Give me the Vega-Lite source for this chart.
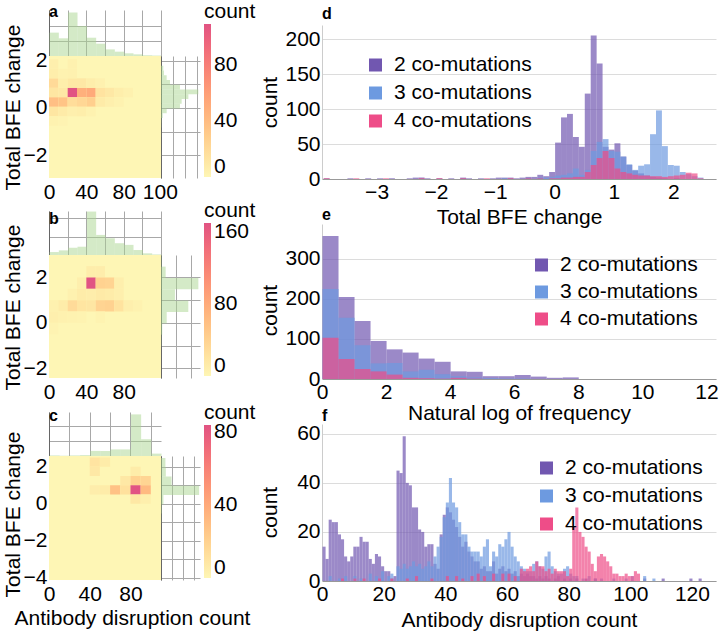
{
  "$schema": "https://vega.github.io/schema/vega-lite/v6.json",
  "background": "white",
  "padding": {"left": 2, "top": 1, "right": 0, "bottom": 0},
  "bounds": "flush",
  "spacing": 273,
  "resolve": {"scale": {"x": "independent", "y": "independent", "color": "independent"}, "legend": {"color": "independent"}},
  "hconcat": [
    {
      "vconcat": [
        {
          "spacing": 0, "bounds": "flush",
          "resolve": {"scale": {"x": "independent", "y": "independent", "color": "independent"}, "legend": {"color": "independent"}},
          "vconcat": [
            {
              "width": 112, "height": 46,
              "title": {"text": "a", "offset": -10},
              "data": {"name": "topA"},
              "mark": {"type": "bar", "color": "#a9d58f", "opacity": 0.5, "binSpacing": 0},
              "encoding": {
                "x": {"field": "x", "type": "quantitative", "bin": {"binned": true, "step": 10}, "scale": {"domain": [0, 120], "nice": false}, "axis": {"labels": false, "title": null, "grid": true, "gridColor": "#a8a8a8", "domainColor": "#666666", "values": [0, 20, 40, 60, 80, 100, 120]}},
                "y": {"field": "n", "type": "quantitative", "scale": {"domain": [0, 307], "nice": false}, "axis": {"labels": false, "title": null, "grid": true, "gridColor": "#a8a8a8", "domainColor": "#666666", "values": [0, 100, 200]}}
              }
            },
            {
              "spacing": 0, "bounds": "flush",
              "resolve": {"scale": {"x": "independent", "y": "independent", "color": "independent"}, "legend": {"color": "independent"}},
              "hconcat": [
                {
                  "width": 112, "height": 122,
                  "view": {"fill": "#fef6b5", "stroke": null},
                  "data": {"name": "heatA"},
                  "mark": {"type": "rect"},
                  "encoding": {
                    "x": {"field": "x", "type": "quantitative", "scale": {"domain": [0, 120], "nice": false}, "axis": {"values": [0, 40, 80, 100], "grid": false, "domain": false, "title": null, "labelPadding": 3, "labelAlign": {"condition": {"test": "datum.value == 100", "value": "left"}, "value": "center"}}},
                    "x2": {"field": "x2"},
                    "y": {"field": "y", "type": "quantitative", "scale": {"domain": [-2.95, 2.19], "nice": false}, "axis": {"values": [-2, 0, 2], "grid": false, "domain": false, "title": "Total BFE change", "titleX": -25.8, "titleY": 51}},
                    "y2": {"field": "y2"},
                    "color": {"field": "n", "type": "quantitative", "scale": {"domain": [0, 109], "range": ["#fef6b5", "#ffdd9a", "#ffc285", "#ffa679", "#fa8a76", "#f16d7a", "#e15383"]},
                      "legend": {"orient": "none", "legendX": 155, "legendY": -55, "direction": "vertical", "gradientLength": 153, "gradientThickness": 7, "values": [0, 40, 80], "title": "count", "titleAnchor": "start", "titleFontSize": 21, "titleFontWeight": "normal", "titlePadding": 2, "labelFontSize": 21, "labelOffset": 3, "labelOverlap": false, "gradientStrokeWidth": 0}}
                  }
                },
                {
                  "width": 39, "height": 122,
                  "data": {"name": "rightA"},
                  "mark": {"type": "bar", "color": "#a9d58f", "opacity": 0.5, "binSpacing": 0, "orient": "horizontal"},
                  "encoding": {
                    "y": {"field": "y", "type": "quantitative", "bin": {"binned": true, "step": 0.2}, "scale": {"domain": [-2.95, 2.19], "nice": false}, "axis": {"labels": false, "title": null, "grid": true, "gridColor": "#a8a8a8", "domainColor": "#666666", "values": [-2, -1, 0, 1, 2]}},
                    "x": {"field": "n", "type": "quantitative", "scale": {"domain": [0, 325], "nice": false}, "axis": {"labels": false, "title": null, "grid": true, "gridColor": "#a8a8a8", "domain": false, "values": [0, 100, 200, 300]}}
                  }
                }
              ]
            }
          ]
        },
        {
          "spacing": 0, "bounds": "flush",
          "resolve": {"scale": {"x": "independent", "y": "independent", "color": "independent"}, "legend": {"color": "independent"}},
          "vconcat": [
            {
              "width": 112, "height": 44,
              "title": {"text": "b", "offset": -16},
              "data": {"name": "topB"},
              "mark": {"type": "bar", "color": "#a9d58f", "opacity": 0.5, "binSpacing": 0},
              "encoding": {
                "x": {"field": "x", "type": "quantitative", "bin": {"binned": true, "step": 10}, "scale": {"domain": [0, 120], "nice": false}, "axis": {"labels": false, "title": null, "grid": true, "gridColor": "#a8a8a8", "domainColor": "#666666", "values": [0, 20, 40, 60, 80, 100, 120]}},
                "y": {"field": "n", "type": "quantitative", "scale": {"domain": [0, 239], "nice": false}, "axis": {"labels": false, "title": null, "grid": true, "gridColor": "#a8a8a8", "domainColor": "#666666", "values": [0, 100, 200]}}
              }
            },
            {
              "spacing": 0, "bounds": "flush",
              "resolve": {"scale": {"x": "independent", "y": "independent", "color": "independent"}, "legend": {"color": "independent"}},
              "hconcat": [
                {
                  "width": 112, "height": 123,
                  "view": {"fill": "#fef6b5", "stroke": null},
                  "data": {"name": "heatB"},
                  "mark": {"type": "rect"},
                  "encoding": {
                    "x": {"field": "x", "type": "quantitative", "scale": {"domain": [0, 120], "nice": false}, "axis": {"values": [0, 40, 80], "grid": false, "domain": false, "title": null, "labelPadding": 3}},
                    "x2": {"field": "x2"},
                    "y": {"field": "y", "type": "quantitative", "scale": {"domain": [-2.43, 2.99], "nice": false}, "axis": {"values": [-2, 0, 2], "grid": false, "domain": false, "title": "Total BFE change", "titleX": -25.8, "titleY": 52}},
                    "y2": {"field": "y2"},
                    "color": {"field": "n", "type": "quantitative", "scale": {"domain": [0, 170], "range": ["#fef6b5", "#ffdd9a", "#ffc285", "#ffa679", "#fa8a76", "#f16d7a", "#e15383"]},
                      "legend": {"orient": "none", "legendX": 155, "legendY": -55, "direction": "vertical", "gradientLength": 153, "gradientThickness": 7, "values": [0, 80, 160], "title": "count", "titleAnchor": "start", "titleFontSize": 21, "titleFontWeight": "normal", "titlePadding": 2, "labelFontSize": 21, "labelOffset": 3, "labelOverlap": false, "gradientStrokeWidth": 0}}
                  }
                },
                {
                  "width": 39, "height": 123,
                  "data": {"name": "rightB"},
                  "mark": {"type": "bar", "color": "#a9d58f", "opacity": 0.5, "binSpacing": 0, "orient": "horizontal"},
                  "encoding": {
                    "y": {"field": "y", "type": "quantitative", "bin": {"binned": true, "step": 0.5}, "scale": {"domain": [-2.43, 2.99], "nice": false}, "axis": {"labels": false, "title": null, "grid": true, "gridColor": "#a8a8a8", "domainColor": "#666666", "values": [-2, -1, 0, 1, 2]}},
                    "x": {"field": "n", "type": "quantitative", "scale": {"domain": [0, 260], "nice": false}, "axis": {"labels": false, "title": null, "grid": true, "gridColor": "#a8a8a8", "domain": false, "values": [0, 100, 200]}}
                  }
                }
              ]
            }
          ]
        },
        {
          "spacing": 0, "bounds": "flush",
          "resolve": {"scale": {"x": "independent", "y": "independent", "color": "independent"}, "legend": {"color": "independent"}},
          "vconcat": [
            {
              "width": 112, "height": 44,
              "title": {"text": "c", "offset": -12},
              "data": {"name": "topC"},
              "mark": {"type": "bar", "color": "#a9d58f", "opacity": 0.5, "binSpacing": 0},
              "encoding": {
                "x": {"field": "x", "type": "quantitative", "bin": {"binned": true, "step": 10}, "scale": {"domain": [0, 110], "nice": false}, "axis": {"labels": false, "title": null, "grid": true, "gridColor": "#a8a8a8", "domainColor": "#666666", "values": [0, 20, 40, 60, 80, 100]}},
                "y": {"field": "n", "type": "quantitative", "scale": {"domain": [0, 147], "nice": false}, "axis": {"labels": false, "title": null, "grid": true, "gridColor": "#a8a8a8", "domainColor": "#666666", "values": [0, 50, 100]}}
              }
            },
            {
              "spacing": 0, "bounds": "flush",
              "resolve": {"scale": {"x": "independent", "y": "independent", "color": "independent"}, "legend": {"color": "independent"}},
              "hconcat": [
                {
                  "width": 112, "height": 124,
                  "view": {"fill": "#fef6b5", "stroke": null},
                  "data": {"name": "heatC"},
                  "mark": {"type": "rect"},
                  "encoding": {
                    "x": {"field": "x", "type": "quantitative", "scale": {"domain": [0, 110], "nice": false}, "axis": {"values": [0, 40, 80], "grid": false, "domain": false, "title": "Antibody disruption count", "titleX": 83, "titleY": 27.5, "labelPadding": 3}},
                    "x2": {"field": "x2"},
                    "y": {"field": "y", "type": "quantitative", "scale": {"domain": [-4.12, 2.58], "nice": false}, "axis": {"values": [-4, -2, 0, 2], "grid": false, "domain": false, "title": "Total BFE change", "titleX": -25.8, "titleY": 58}},
                    "y2": {"field": "y2"},
                    "color": {"field": "n", "type": "quantitative", "scale": {"domain": [0, 84], "range": ["#fef6b5", "#ffdd9a", "#ffc285", "#ffa679", "#fa8a76", "#f16d7a", "#e15383"]},
                      "legend": {"orient": "none", "legendX": 155, "legendY": -54, "direction": "vertical", "gradientLength": 153, "gradientThickness": 7, "values": [0, 40, 80], "title": "count", "titleAnchor": "start", "titleFontSize": 21, "titleFontWeight": "normal", "titlePadding": 2, "labelFontSize": 21, "labelOffset": 3, "labelOverlap": false, "gradientStrokeWidth": 0}}
                  }
                },
                {
                  "width": 39, "height": 124,
                  "data": {"name": "rightC"},
                  "mark": {"type": "bar", "color": "#a9d58f", "opacity": 0.5, "binSpacing": 0, "orient": "horizontal"},
                  "encoding": {
                    "y": {"field": "y", "type": "quantitative", "bin": {"binned": true, "step": 0.5}, "scale": {"domain": [-4.12, 2.58], "nice": false}, "axis": {"labels": false, "title": null, "grid": true, "gridColor": "#a8a8a8", "domainColor": "#666666", "values": [-4, -3, -2, -1, 0, 1, 2]}},
                    "x": {"field": "n", "type": "quantitative", "scale": {"domain": [0, 177], "nice": false}, "axis": {"labels": false, "title": null, "grid": true, "gridColor": "#a8a8a8", "domain": false, "values": [0, 50, 100, 150]}}
                  }
                }
              ]
            }
          ]
        }
      ],
      "spacing": 201, "bounds": "flush",
      "resolve": {"scale": {"x": "independent", "y": "independent", "color": "independent"}, "legend": {"color": "independent"}}
    },
    {
      "spacing": 14, "bounds": "flush",
      "resolve": {"scale": {"x": "independent", "y": "independent", "color": "independent"}, "legend": {"color": "independent"}},
      "vconcat": [
        {"width": 1, "height": 1, "data": {"values": []}, "mark": {"type": "point", "opacity": 0}, "encoding": {}},
        {
          "spacing": 45, "bounds": "flush",
          "resolve": {"scale": {"x": "independent", "y": "independent", "color": "independent"}, "legend": {"color": "independent"}},
          "vconcat": [
            {
              "width": 394, "height": 154,
              "title": {"text": "d", "offset": 3},
              "data": {"name": "histD"},
              "mark": {"type": "bar", "opacity": 0.7, "binSpacing": 0},
              "encoding": {
                "x": {"field": "x", "type": "quantitative", "bin": {"binned": true, "step": 0.1}, "scale": {"domain": [-3.92, 2.72], "nice": false}, "axis": {"values": [-3, -2, -1, 0, 1, 2], "format": "d", "title": "Total BFE change", "titleY": 27, "grid": false, "domainColor": "#999999"}},
                "y": {"field": "n", "type": "quantitative", "stack": null, "scale": {"domain": [0, 220], "nice": false}, "axis": {"values": [0, 50, 100, 150, 200], "title": "count", "titleX": -41.5, "grid": true, "domainColor": "#cccccc"}},
                "color": {"field": "g", "type": "nominal", "scale": {"domain": ["2 co-mutations", "3 co-mutations", "4 co-mutations"], "range": ["#7157b0", "#6d9ae0", "#ee4d88"]},
                  "legend": {"orient": "none", "legendX": 43, "legendY": 29.5, "title": null, "symbolType": "square", "symbolSize": 169, "symbolStrokeWidth": 0, "symbolOpacity": 1, "labelFontSize": 21, "labelOffset": 8, "rowPadding": 6}}
              }
            },
            {
              "width": 394, "height": 155,
              "title": {"text": "e", "offset": 1},
              "data": {"name": "histE"},
              "mark": {"type": "bar", "opacity": 0.7, "binSpacing": 0},
              "encoding": {
                "x": {"field": "x", "type": "quantitative", "bin": {"binned": true, "step": 0.5}, "scale": {"domain": [0, 12.3], "nice": false}, "axis": {"values": [0, 2, 4, 6, 8, 10, 12], "format": "d", "title": "Natural log of frequency", "titleY": 23.5, "grid": false, "domainColor": "#999999"}},
                "y": {"field": "n", "type": "quantitative", "stack": null, "scale": {"domain": [0, 387], "nice": false}, "axis": {"values": [0, 100, 200, 300], "title": "count", "titleX": -41.5, "titleY": 86, "grid": true, "domainColor": "#cccccc"}},
                "color": {"field": "g", "type": "nominal", "scale": {"domain": ["2 co-mutations", "3 co-mutations", "4 co-mutations"], "range": ["#7157b0", "#6d9ae0", "#ee4d88"]},
                  "legend": {"orient": "none", "legendX": 209, "legendY": 30.5, "title": null, "symbolType": "square", "symbolSize": 169, "symbolStrokeWidth": 0, "symbolOpacity": 1, "labelFontSize": 21, "labelOffset": 8, "rowPadding": 5}}
              }
            },
            {
              "width": 394, "height": 157,
              "title": {"text": "f", "offset": -1},
              "data": {"name": "histF"},
              "mark": {"type": "bar", "opacity": 0.7, "binSpacing": 0},
              "encoding": {
                "x": {"field": "x", "type": "quantitative", "bin": {"binned": true, "step": 1}, "scale": {"domain": [0, 127.8], "nice": false}, "axis": {"values": [0, 20, 40, 60, 80, 100, 120], "format": "d", "title": "Antibody disruption count", "titleY": 28.5, "grid": false, "domainColor": "#999999"}},
                "y": {"field": "n", "type": "quantitative", "stack": null, "scale": {"domain": [0, 64], "nice": false}, "axis": {"values": [0, 20, 40, 60], "title": "count", "titleX": -41.5, "titleY": 88, "grid": true, "domainColor": "#cccccc"}},
                "color": {"field": "g", "type": "nominal", "scale": {"domain": ["2 co-mutations", "3 co-mutations", "4 co-mutations"], "range": ["#7157b0", "#6d9ae0", "#ee4d88"]},
                  "legend": {"orient": "none", "legendX": 214, "legendY": 33.5, "title": null, "symbolType": "square", "symbolSize": 169, "symbolStrokeWidth": 0, "symbolOpacity": 1, "labelFontSize": 21, "labelOffset": 8, "rowPadding": 6}}
              }
            }
          ]
        }
      ]
    }
  ],
  "datasets": {
    "topA": [
      {"x": 0, "n": 156}, {"x": 10, "n": 118}, {"x": 20, "n": 290}, {"x": 30, "n": 200}, {"x": 40, "n": 122}, {"x": 50, "n": 82},
      {"x": 60, "n": 44}, {"x": 70, "n": 29}, {"x": 80, "n": 18}, {"x": 90, "n": 11}, {"x": 100, "n": 5}, {"x": 110, "n": 3}
    ],
    "topB": [
      {"x": 0, "n": 16}, {"x": 10, "n": 25}, {"x": 20, "n": 40}, {"x": 30, "n": 45}, {"x": 40, "n": 236}, {"x": 50, "n": 109},
      {"x": 60, "n": 91}, {"x": 70, "n": 64}, {"x": 80, "n": 55}, {"x": 90, "n": 27}, {"x": 100, "n": 9}, {"x": 110, "n": 3}
    ],
    "topC": [
      {"x": 0, "n": 2}, {"x": 10, "n": 1}, {"x": 20, "n": 2}, {"x": 30, "n": 3}, {"x": 40, "n": 17}, {"x": 50, "n": 17},
      {"x": 60, "n": 22}, {"x": 70, "n": 22}, {"x": 80, "n": 139}, {"x": 90, "n": 56}, {"x": 100, "n": 8}
    ],
    "rightA": [
      {"y": 1.6, "n": 19}, {"y": 1.4, "n": 25}, {"y": 1.2, "n": 47}, {"y": 1.0, "n": 75}, {"y": 0.8, "n": 158}, {"y": 0.6, "n": 311},
      {"y": 0.4, "n": 228}, {"y": 0.2, "n": 172}, {"y": 0.0, "n": 158}, {"y": -0.2, "n": 47}, {"y": -0.4, "n": 14}, {"y": -0.6, "n": 3},
      {"y": -0.8, "n": 2}, {"y": -1.2, "n": 1}, {"y": -2.0, "n": 1}
    ],
    "rightB": [
      {"y": 2.5, "n": 3}, {"y": 2.0, "n": 31}, {"y": 1.5, "n": 249}, {"y": 1.0, "n": 93}, {"y": 0.5, "n": 182}, {"y": 0.0, "n": 38},
      {"y": -0.5, "n": 8}, {"y": -1.0, "n": 2}
    ],
    "rightC": [
      {"y": 2.0, "n": 20}, {"y": 1.5, "n": 22}, {"y": 1.0, "n": 48}, {"y": 0.5, "n": 173}, {"y": 0.0, "n": 11}, {"y": -0.5, "n": 3}, {"y": -1.0, "n": 1}
    ],
    "heatA": [
      {"x": 0, "x2": 10, "y": 0.45, "y2": 0.85, "n": 12}, {"x": 10, "x2": 20, "y": 0.45, "y2": 0.85, "n": 10},
      {"x": 20, "x2": 30, "y": 0.45, "y2": 0.85, "n": 109}, {"x": 30, "x2": 40, "y": 0.45, "y2": 0.85, "n": 48},
      {"x": 40, "x2": 50, "y": 0.45, "y2": 0.85, "n": 52}, {"x": 50, "x2": 60, "y": 0.45, "y2": 0.85, "n": 14},
      {"x": 60, "x2": 70, "y": 0.45, "y2": 0.85, "n": 10}, {"x": 70, "x2": 80, "y": 0.45, "y2": 0.85, "n": 6},
      {"x": 80, "x2": 90, "y": 0.45, "y2": 0.85, "n": 4},
      {"x": 0, "x2": 10, "y": 0.05, "y2": 0.45, "n": 38}, {"x": 10, "x2": 20, "y": 0.05, "y2": 0.45, "n": 35},
      {"x": 20, "x2": 30, "y": 0.05, "y2": 0.45, "n": 18}, {"x": 30, "x2": 40, "y": 0.05, "y2": 0.45, "n": 22},
      {"x": 40, "x2": 50, "y": 0.05, "y2": 0.45, "n": 28}, {"x": 50, "x2": 60, "y": 0.05, "y2": 0.45, "n": 8},
      {"x": 60, "x2": 70, "y": 0.05, "y2": 0.45, "n": 5}, {"x": 70, "x2": 80, "y": 0.05, "y2": 0.45, "n": 3},
      {"x": 0, "x2": 10, "y": -0.35, "y2": 0.05, "n": 12}, {"x": 10, "x2": 20, "y": -0.35, "y2": 0.05, "n": 8},
      {"x": 20, "x2": 30, "y": -0.35, "y2": 0.05, "n": 5}, {"x": 30, "x2": 40, "y": -0.35, "y2": 0.05, "n": 6},
      {"x": 40, "x2": 50, "y": -0.35, "y2": 0.05, "n": 3},
      {"x": 0, "x2": 10, "y": -0.75, "y2": -0.35, "n": 3}, {"x": 10, "x2": 20, "y": -0.75, "y2": -0.35, "n": 2},
      {"x": 0, "x2": 10, "y": 0.85, "y2": 1.25, "n": 20}, {"x": 10, "x2": 20, "y": 0.85, "y2": 1.25, "n": 6},
      {"x": 20, "x2": 30, "y": 0.85, "y2": 1.25, "n": 10}, {"x": 30, "x2": 40, "y": 0.85, "y2": 1.25, "n": 10},
      {"x": 40, "x2": 50, "y": 0.85, "y2": 1.25, "n": 6}, {"x": 50, "x2": 60, "y": 0.85, "y2": 1.25, "n": 4},
      {"x": 0, "x2": 10, "y": 1.25, "y2": 1.65, "n": 6}, {"x": 10, "x2": 20, "y": 1.25, "y2": 1.65, "n": 3},
      {"x": 20, "x2": 30, "y": 1.25, "y2": 1.65, "n": 4},
      {"x": 0, "x2": 10, "y": 1.65, "y2": 2.05, "n": 5}, {"x": 20, "x2": 30, "y": 1.65, "y2": 2.05, "n": 4}
    ],
    "heatB": [
      {"x": 40, "x2": 50, "y": 2.0, "y2": 2.5, "n": 10}, {"x": 50, "x2": 60, "y": 2.0, "y2": 2.5, "n": 10},
      {"x": 30, "x2": 40, "y": 1.5, "y2": 2.0, "n": 8}, {"x": 40, "x2": 50, "y": 1.5, "y2": 2.0, "n": 170},
      {"x": 50, "x2": 60, "y": 1.5, "y2": 2.0, "n": 40}, {"x": 60, "x2": 70, "y": 1.5, "y2": 2.0, "n": 38},
      {"x": 70, "x2": 80, "y": 1.5, "y2": 2.0, "n": 8},
      {"x": 20, "x2": 30, "y": 1.0, "y2": 1.5, "n": 6}, {"x": 30, "x2": 40, "y": 1.0, "y2": 1.5, "n": 12},
      {"x": 40, "x2": 50, "y": 1.0, "y2": 1.5, "n": 10}, {"x": 50, "x2": 60, "y": 1.0, "y2": 1.5, "n": 14},
      {"x": 60, "x2": 70, "y": 1.0, "y2": 1.5, "n": 12}, {"x": 70, "x2": 80, "y": 1.0, "y2": 1.5, "n": 8},
      {"x": 0, "x2": 10, "y": 0.5, "y2": 1.0, "n": 6}, {"x": 10, "x2": 20, "y": 0.5, "y2": 1.0, "n": 12},
      {"x": 20, "x2": 30, "y": 0.5, "y2": 1.0, "n": 30}, {"x": 30, "x2": 40, "y": 0.5, "y2": 1.0, "n": 20},
      {"x": 40, "x2": 50, "y": 0.5, "y2": 1.0, "n": 18}, {"x": 50, "x2": 60, "y": 0.5, "y2": 1.0, "n": 38},
      {"x": 60, "x2": 70, "y": 0.5, "y2": 1.0, "n": 40}, {"x": 70, "x2": 80, "y": 0.5, "y2": 1.0, "n": 22},
      {"x": 80, "x2": 90, "y": 0.5, "y2": 1.0, "n": 8}, {"x": 90, "x2": 100, "y": 0.5, "y2": 1.0, "n": 5},
      {"x": 0, "x2": 10, "y": 0.0, "y2": 0.5, "n": 8}, {"x": 10, "x2": 20, "y": 0.0, "y2": 0.5, "n": 6},
      {"x": 20, "x2": 30, "y": 0.0, "y2": 0.5, "n": 5}, {"x": 30, "x2": 40, "y": 0.0, "y2": 0.5, "n": 4},
      {"x": 50, "x2": 60, "y": 0.0, "y2": 0.5, "n": 4},
      {"x": 0, "x2": 10, "y": -0.5, "y2": 0.0, "n": 3}
    ],
    "heatC": [
      {"x": 40, "x2": 50, "y": 2.0, "y2": 2.5, "n": 10}, {"x": 50, "x2": 60, "y": 2.0, "y2": 2.5, "n": 6},
      {"x": 40, "x2": 50, "y": 1.5, "y2": 2.0, "n": 8}, {"x": 80, "x2": 90, "y": 1.5, "y2": 2.0, "n": 6},
      {"x": 70, "x2": 80, "y": 1.0, "y2": 1.5, "n": 8}, {"x": 80, "x2": 90, "y": 1.0, "y2": 1.5, "n": 20},
      {"x": 90, "x2": 100, "y": 1.0, "y2": 1.5, "n": 18},
      {"x": 40, "x2": 50, "y": 0.5, "y2": 1.0, "n": 5}, {"x": 50, "x2": 60, "y": 0.5, "y2": 1.0, "n": 6},
      {"x": 60, "x2": 70, "y": 0.5, "y2": 1.0, "n": 28}, {"x": 70, "x2": 80, "y": 0.5, "y2": 1.0, "n": 12},
      {"x": 80, "x2": 90, "y": 0.5, "y2": 1.0, "n": 84}, {"x": 90, "x2": 100, "y": 0.5, "y2": 1.0, "n": 32},
      {"x": 80, "x2": 90, "y": 0.0, "y2": 0.5, "n": 8}, {"x": 90, "x2": 100, "y": 0.0, "y2": 0.5, "n": 4}
    ],
    "histD": [
      {"g": "2 co-mutations", "x": -3.9, "n": 1}, {"g": "2 co-mutations", "x": -3.5, "n": 1}, {"g": "2 co-mutations", "x": -3.2, "n": 1},
      {"g": "2 co-mutations", "x": -3.0, "n": 1}, {"g": "2 co-mutations", "x": -2.8, "n": 1}, {"g": "2 co-mutations", "x": -2.5, "n": 1},
      {"g": "2 co-mutations", "x": -2.4, "n": 2}, {"g": "2 co-mutations", "x": -2.3, "n": 2}, {"g": "2 co-mutations", "x": -2.2, "n": 1},
      {"g": "2 co-mutations", "x": -2.0, "n": 1}, {"g": "2 co-mutations", "x": -1.8, "n": 1}, {"g": "2 co-mutations", "x": -1.6, "n": 2},
      {"g": "2 co-mutations", "x": -1.5, "n": 1}, {"g": "2 co-mutations", "x": -1.3, "n": 1}, {"g": "2 co-mutations", "x": -1.1, "n": 1},
      {"g": "2 co-mutations", "x": -1.0, "n": 2}, {"g": "2 co-mutations", "x": -0.9, "n": 2}, {"g": "2 co-mutations", "x": -0.8, "n": 2},
      {"g": "2 co-mutations", "x": -0.7, "n": 1}, {"g": "2 co-mutations", "x": -0.6, "n": 2}, {"g": "2 co-mutations", "x": -0.5, "n": 3},
      {"g": "2 co-mutations", "x": -0.4, "n": 3}, {"g": "2 co-mutations", "x": -0.3, "n": 6}, {"g": "2 co-mutations", "x": -0.2, "n": 4},
      {"g": "2 co-mutations", "x": -0.1, "n": 10}, {"g": "2 co-mutations", "x": 0.0, "n": 52}, {"g": "2 co-mutations", "x": 0.1, "n": 88},
      {"g": "2 co-mutations", "x": 0.2, "n": 93}, {"g": "2 co-mutations", "x": 0.3, "n": 60}, {"g": "2 co-mutations", "x": 0.4, "n": 46},
      {"g": "2 co-mutations", "x": 0.5, "n": 122}, {"g": "2 co-mutations", "x": 0.6, "n": 205}, {"g": "2 co-mutations", "x": 0.7, "n": 165},
      {"g": "2 co-mutations", "x": 0.8, "n": 46}, {"g": "2 co-mutations", "x": 0.9, "n": 42}, {"g": "2 co-mutations", "x": 1.0, "n": 51},
      {"g": "2 co-mutations", "x": 1.1, "n": 32}, {"g": "2 co-mutations", "x": 1.2, "n": 20}, {"g": "2 co-mutations", "x": 1.3, "n": 12},
      {"g": "2 co-mutations", "x": 1.4, "n": 8}, {"g": "2 co-mutations", "x": 1.5, "n": 5}, {"g": "2 co-mutations", "x": 1.6, "n": 3},
      {"g": "2 co-mutations", "x": 1.7, "n": 2}, {"g": "2 co-mutations", "x": 1.8, "n": 1}, {"g": "2 co-mutations", "x": 2.0, "n": 1},
      {"g": "3 co-mutations", "x": -0.9, "n": 1}, {"g": "3 co-mutations", "x": -0.5, "n": 1}, {"g": "3 co-mutations", "x": -0.3, "n": 2},
      {"g": "3 co-mutations", "x": -0.2, "n": 2}, {"g": "3 co-mutations", "x": -0.1, "n": 3}, {"g": "3 co-mutations", "x": 0.0, "n": 5},
      {"g": "3 co-mutations", "x": 0.1, "n": 6}, {"g": "3 co-mutations", "x": 0.2, "n": 8}, {"g": "3 co-mutations", "x": 0.3, "n": 15},
      {"g": "3 co-mutations", "x": 0.4, "n": 6}, {"g": "3 co-mutations", "x": 0.5, "n": 13}, {"g": "3 co-mutations", "x": 0.6, "n": 40},
      {"g": "3 co-mutations", "x": 0.7, "n": 53}, {"g": "3 co-mutations", "x": 0.8, "n": 57}, {"g": "3 co-mutations", "x": 0.9, "n": 40},
      {"g": "3 co-mutations", "x": 1.0, "n": 39}, {"g": "3 co-mutations", "x": 1.1, "n": 32}, {"g": "3 co-mutations", "x": 1.2, "n": 21},
      {"g": "3 co-mutations", "x": 1.3, "n": 13}, {"g": "3 co-mutations", "x": 1.4, "n": 19}, {"g": "3 co-mutations", "x": 1.5, "n": 21},
      {"g": "3 co-mutations", "x": 1.6, "n": 64}, {"g": "3 co-mutations", "x": 1.7, "n": 98}, {"g": "3 co-mutations", "x": 1.8, "n": 47},
      {"g": "3 co-mutations", "x": 1.9, "n": 20}, {"g": "3 co-mutations", "x": 2.0, "n": 19}, {"g": "3 co-mutations", "x": 2.1, "n": 10},
      {"g": "3 co-mutations", "x": 2.2, "n": 7}, {"g": "3 co-mutations", "x": 2.3, "n": 4}, {"g": "3 co-mutations", "x": 2.4, "n": 2},
      {"g": "4 co-mutations", "x": -3.9, "n": 1}, {"g": "4 co-mutations", "x": -3.4, "n": 1}, {"g": "4 co-mutations", "x": -2.9, "n": 1},
      {"g": "4 co-mutations", "x": -2.3, "n": 1}, {"g": "4 co-mutations", "x": -2.0, "n": 1}, {"g": "4 co-mutations", "x": -1.6, "n": 1},
      {"g": "4 co-mutations", "x": -1.2, "n": 1}, {"g": "4 co-mutations", "x": -0.8, "n": 1}, {"g": "4 co-mutations", "x": -0.5, "n": 1},
      {"g": "4 co-mutations", "x": -0.3, "n": 1}, {"g": "4 co-mutations", "x": -0.1, "n": 1}, {"g": "4 co-mutations", "x": 0.0, "n": 1},
      {"g": "4 co-mutations", "x": 0.1, "n": 2}, {"g": "4 co-mutations", "x": 0.2, "n": 2}, {"g": "4 co-mutations", "x": 0.3, "n": 3},
      {"g": "4 co-mutations", "x": 0.4, "n": 3}, {"g": "4 co-mutations", "x": 0.5, "n": 10}, {"g": "4 co-mutations", "x": 0.6, "n": 20},
      {"g": "4 co-mutations", "x": 0.7, "n": 30}, {"g": "4 co-mutations", "x": 0.8, "n": 40}, {"g": "4 co-mutations", "x": 0.9, "n": 30},
      {"g": "4 co-mutations", "x": 1.0, "n": 15}, {"g": "4 co-mutations", "x": 1.1, "n": 10}, {"g": "4 co-mutations", "x": 1.2, "n": 8},
      {"g": "4 co-mutations", "x": 1.3, "n": 6}, {"g": "4 co-mutations", "x": 1.4, "n": 5}, {"g": "4 co-mutations", "x": 1.5, "n": 5},
      {"g": "4 co-mutations", "x": 1.6, "n": 4}, {"g": "4 co-mutations", "x": 1.7, "n": 4}, {"g": "4 co-mutations", "x": 1.8, "n": 3},
      {"g": "4 co-mutations", "x": 1.9, "n": 4}, {"g": "4 co-mutations", "x": 2.0, "n": 5}, {"g": "4 co-mutations", "x": 2.1, "n": 6},
      {"g": "4 co-mutations", "x": 2.2, "n": 9}, {"g": "4 co-mutations", "x": 2.3, "n": 8}, {"g": "4 co-mutations", "x": 2.4, "n": 1}
    ],
    "histE": [
      {"g": "2 co-mutations", "x": 0, "n": 357}, {"g": "2 co-mutations", "x": 0.5, "n": 205}, {"g": "2 co-mutations", "x": 1, "n": 145},
      {"g": "2 co-mutations", "x": 1.5, "n": 95}, {"g": "2 co-mutations", "x": 2, "n": 74}, {"g": "2 co-mutations", "x": 2.5, "n": 66},
      {"g": "2 co-mutations", "x": 3, "n": 51}, {"g": "2 co-mutations", "x": 3.5, "n": 43}, {"g": "2 co-mutations", "x": 4, "n": 19},
      {"g": "2 co-mutations", "x": 4.5, "n": 18}, {"g": "2 co-mutations", "x": 5, "n": 7}, {"g": "2 co-mutations", "x": 5.5, "n": 7},
      {"g": "2 co-mutations", "x": 6, "n": 10}, {"g": "2 co-mutations", "x": 6.5, "n": 6}, {"g": "2 co-mutations", "x": 7, "n": 3},
      {"g": "2 co-mutations", "x": 7.5, "n": 4},
      {"g": "3 co-mutations", "x": 0, "n": 225}, {"g": "3 co-mutations", "x": 0.5, "n": 153}, {"g": "3 co-mutations", "x": 1, "n": 84},
      {"g": "3 co-mutations", "x": 1.5, "n": 39}, {"g": "3 co-mutations", "x": 2, "n": 40}, {"g": "3 co-mutations", "x": 2.5, "n": 19},
      {"g": "3 co-mutations", "x": 3, "n": 23}, {"g": "3 co-mutations", "x": 3.5, "n": 12}, {"g": "3 co-mutations", "x": 4, "n": 7},
      {"g": "3 co-mutations", "x": 4.5, "n": 4}, {"g": "3 co-mutations", "x": 5, "n": 2}, {"g": "3 co-mutations", "x": 5.5, "n": 1},
      {"g": "3 co-mutations", "x": 6, "n": 1},
      {"g": "4 co-mutations", "x": 0, "n": 103}, {"g": "4 co-mutations", "x": 0.5, "n": 50}, {"g": "4 co-mutations", "x": 1, "n": 25},
      {"g": "4 co-mutations", "x": 1.5, "n": 19}, {"g": "4 co-mutations", "x": 2, "n": 11}, {"g": "4 co-mutations", "x": 2.5, "n": 3},
      {"g": "4 co-mutations", "x": 3, "n": 2}, {"g": "4 co-mutations", "x": 3.5, "n": 1}, {"g": "4 co-mutations", "x": 4, "n": 3},
      {"g": "4 co-mutations", "x": 4.5, "n": 1}
    ],
    "histF": [
      {"g": "2 co-mutations", "x": 0, "n": 14}, {"g": "2 co-mutations", "x": 1, "n": 9}, {"g": "2 co-mutations", "x": 2, "n": 25},
      {"g": "2 co-mutations", "x": 3, "n": 24}, {"g": "2 co-mutations", "x": 4, "n": 24}, {"g": "2 co-mutations", "x": 5, "n": 19},
      {"g": "2 co-mutations", "x": 6, "n": 17}, {"g": "2 co-mutations", "x": 7, "n": 10}, {"g": "2 co-mutations", "x": 8, "n": 8},
      {"g": "2 co-mutations", "x": 9, "n": 10}, {"g": "2 co-mutations", "x": 10, "n": 14}, {"g": "2 co-mutations", "x": 11, "n": 14},
      {"g": "2 co-mutations", "x": 12, "n": 18}, {"g": "2 co-mutations", "x": 13, "n": 16}, {"g": "2 co-mutations", "x": 14, "n": 16},
      {"g": "2 co-mutations", "x": 15, "n": 9}, {"g": "2 co-mutations", "x": 16, "n": 7}, {"g": "2 co-mutations", "x": 17, "n": 11},
      {"g": "2 co-mutations", "x": 18, "n": 10}, {"g": "2 co-mutations", "x": 19, "n": 6}, {"g": "2 co-mutations", "x": 20, "n": 4},
      {"g": "2 co-mutations", "x": 21, "n": 4}, {"g": "2 co-mutations", "x": 22, "n": 1}, {"g": "2 co-mutations", "x": 23, "n": 2},
      {"g": "2 co-mutations", "x": 24, "n": 45}, {"g": "2 co-mutations", "x": 25, "n": 44}, {"g": "2 co-mutations", "x": 26, "n": 59},
      {"g": "2 co-mutations", "x": 27, "n": 40}, {"g": "2 co-mutations", "x": 28, "n": 39}, {"g": "2 co-mutations", "x": 29, "n": 30},
      {"g": "2 co-mutations", "x": 30, "n": 30}, {"g": "2 co-mutations", "x": 31, "n": 21}, {"g": "2 co-mutations", "x": 32, "n": 20},
      {"g": "2 co-mutations", "x": 33, "n": 14}, {"g": "2 co-mutations", "x": 34, "n": 15}, {"g": "2 co-mutations", "x": 35, "n": 15},
      {"g": "2 co-mutations", "x": 36, "n": 7}, {"g": "2 co-mutations", "x": 37, "n": 5}, {"g": "2 co-mutations", "x": 38, "n": 19},
      {"g": "2 co-mutations", "x": 39, "n": 27}, {"g": "2 co-mutations", "x": 40, "n": 30}, {"g": "2 co-mutations", "x": 41, "n": 28},
      {"g": "2 co-mutations", "x": 42, "n": 25}, {"g": "2 co-mutations", "x": 43, "n": 22}, {"g": "2 co-mutations", "x": 44, "n": 18},
      {"g": "2 co-mutations", "x": 45, "n": 14}, {"g": "2 co-mutations", "x": 46, "n": 16}, {"g": "2 co-mutations", "x": 47, "n": 12},
      {"g": "2 co-mutations", "x": 48, "n": 10}, {"g": "2 co-mutations", "x": 49, "n": 8}, {"g": "2 co-mutations", "x": 50, "n": 8},
      {"g": "2 co-mutations", "x": 51, "n": 5}, {"g": "2 co-mutations", "x": 52, "n": 6}, {"g": "2 co-mutations", "x": 53, "n": 4},
      {"g": "2 co-mutations", "x": 54, "n": 4}, {"g": "2 co-mutations", "x": 55, "n": 8}, {"g": "2 co-mutations", "x": 56, "n": 3},
      {"g": "2 co-mutations", "x": 57, "n": 5}, {"g": "2 co-mutations", "x": 58, "n": 6}, {"g": "2 co-mutations", "x": 59, "n": 4},
      {"g": "2 co-mutations", "x": 60, "n": 5}, {"g": "2 co-mutations", "x": 61, "n": 3}, {"g": "2 co-mutations", "x": 62, "n": 4},
      {"g": "2 co-mutations", "x": 63, "n": 2}, {"g": "2 co-mutations", "x": 64, "n": 3}, {"g": "2 co-mutations", "x": 65, "n": 2},
      {"g": "2 co-mutations", "x": 66, "n": 3}, {"g": "2 co-mutations", "x": 67, "n": 2}, {"g": "2 co-mutations", "x": 68, "n": 2},
      {"g": "2 co-mutations", "x": 69, "n": 1}, {"g": "2 co-mutations", "x": 70, "n": 2}, {"g": "2 co-mutations", "x": 71, "n": 1},
      {"g": "2 co-mutations", "x": 72, "n": 2}, {"g": "2 co-mutations", "x": 73, "n": 1}, {"g": "2 co-mutations", "x": 75, "n": 1},
      {"g": "2 co-mutations", "x": 76, "n": 2}, {"g": "2 co-mutations", "x": 78, "n": 1}, {"g": "2 co-mutations", "x": 80, "n": 1},
      {"g": "2 co-mutations", "x": 82, "n": 1}, {"g": "2 co-mutations", "x": 85, "n": 1}, {"g": "2 co-mutations", "x": 88, "n": 1},
      {"g": "2 co-mutations", "x": 104, "n": 1}, {"g": "2 co-mutations", "x": 110, "n": 1}, {"g": "2 co-mutations", "x": 119, "n": 1},
      {"g": "2 co-mutations", "x": 122, "n": 1},
      {"g": "3 co-mutations", "x": 2, "n": 2}, {"g": "3 co-mutations", "x": 5, "n": 1}, {"g": "3 co-mutations", "x": 7, "n": 2},
      {"g": "3 co-mutations", "x": 10, "n": 2}, {"g": "3 co-mutations", "x": 12, "n": 1}, {"g": "3 co-mutations", "x": 15, "n": 3},
      {"g": "3 co-mutations", "x": 17, "n": 2}, {"g": "3 co-mutations", "x": 19, "n": 4}, {"g": "3 co-mutations", "x": 21, "n": 2},
      {"g": "3 co-mutations", "x": 22, "n": 3}, {"g": "3 co-mutations", "x": 24, "n": 6}, {"g": "3 co-mutations", "x": 25, "n": 5},
      {"g": "3 co-mutations", "x": 26, "n": 7}, {"g": "3 co-mutations", "x": 27, "n": 5}, {"g": "3 co-mutations", "x": 28, "n": 6},
      {"g": "3 co-mutations", "x": 29, "n": 8}, {"g": "3 co-mutations", "x": 30, "n": 6}, {"g": "3 co-mutations", "x": 31, "n": 7},
      {"g": "3 co-mutations", "x": 32, "n": 5}, {"g": "3 co-mutations", "x": 33, "n": 6}, {"g": "3 co-mutations", "x": 34, "n": 8},
      {"g": "3 co-mutations", "x": 35, "n": 6}, {"g": "3 co-mutations", "x": 36, "n": 10}, {"g": "3 co-mutations", "x": 37, "n": 14},
      {"g": "3 co-mutations", "x": 38, "n": 18}, {"g": "3 co-mutations", "x": 39, "n": 26}, {"g": "3 co-mutations", "x": 40, "n": 32},
      {"g": "3 co-mutations", "x": 41, "n": 42}, {"g": "3 co-mutations", "x": 42, "n": 32}, {"g": "3 co-mutations", "x": 43, "n": 30},
      {"g": "3 co-mutations", "x": 44, "n": 24}, {"g": "3 co-mutations", "x": 45, "n": 19}, {"g": "3 co-mutations", "x": 46, "n": 19},
      {"g": "3 co-mutations", "x": 47, "n": 14}, {"g": "3 co-mutations", "x": 48, "n": 12}, {"g": "3 co-mutations", "x": 49, "n": 12},
      {"g": "3 co-mutations", "x": 50, "n": 12}, {"g": "3 co-mutations", "x": 51, "n": 10}, {"g": "3 co-mutations", "x": 52, "n": 14},
      {"g": "3 co-mutations", "x": 53, "n": 17}, {"g": "3 co-mutations", "x": 54, "n": 6}, {"g": "3 co-mutations", "x": 55, "n": 12},
      {"g": "3 co-mutations", "x": 56, "n": 10}, {"g": "3 co-mutations", "x": 57, "n": 15}, {"g": "3 co-mutations", "x": 58, "n": 14},
      {"g": "3 co-mutations", "x": 59, "n": 17}, {"g": "3 co-mutations", "x": 60, "n": 20}, {"g": "3 co-mutations", "x": 61, "n": 14},
      {"g": "3 co-mutations", "x": 62, "n": 10}, {"g": "3 co-mutations", "x": 63, "n": 8}, {"g": "3 co-mutations", "x": 64, "n": 6},
      {"g": "3 co-mutations", "x": 65, "n": 5}, {"g": "3 co-mutations", "x": 66, "n": 4}, {"g": "3 co-mutations", "x": 67, "n": 4},
      {"g": "3 co-mutations", "x": 68, "n": 7}, {"g": "3 co-mutations", "x": 69, "n": 8}, {"g": "3 co-mutations", "x": 70, "n": 6},
      {"g": "3 co-mutations", "x": 71, "n": 5}, {"g": "3 co-mutations", "x": 72, "n": 10}, {"g": "3 co-mutations", "x": 73, "n": 12},
      {"g": "3 co-mutations", "x": 74, "n": 6}, {"g": "3 co-mutations", "x": 75, "n": 4}, {"g": "3 co-mutations", "x": 76, "n": 3},
      {"g": "3 co-mutations", "x": 77, "n": 3}, {"g": "3 co-mutations", "x": 78, "n": 5}, {"g": "3 co-mutations", "x": 79, "n": 6},
      {"g": "3 co-mutations", "x": 80, "n": 3}, {"g": "3 co-mutations", "x": 81, "n": 2}, {"g": "3 co-mutations", "x": 82, "n": 2},
      {"g": "3 co-mutations", "x": 84, "n": 1}, {"g": "3 co-mutations", "x": 86, "n": 2}, {"g": "3 co-mutations", "x": 88, "n": 1},
      {"g": "3 co-mutations", "x": 90, "n": 1}, {"g": "3 co-mutations", "x": 94, "n": 1}, {"g": "3 co-mutations", "x": 98, "n": 1},
      {"g": "3 co-mutations", "x": 100, "n": 2}, {"g": "3 co-mutations", "x": 104, "n": 2}, {"g": "3 co-mutations", "x": 107, "n": 1},
      {"g": "4 co-mutations", "x": 6, "n": 1}, {"g": "4 co-mutations", "x": 10, "n": 1}, {"g": "4 co-mutations", "x": 13, "n": 1},
      {"g": "4 co-mutations", "x": 18, "n": 1}, {"g": "4 co-mutations", "x": 22, "n": 1}, {"g": "4 co-mutations", "x": 27, "n": 1},
      {"g": "4 co-mutations", "x": 30, "n": 2}, {"g": "4 co-mutations", "x": 35, "n": 1}, {"g": "4 co-mutations", "x": 40, "n": 2},
      {"g": "4 co-mutations", "x": 43, "n": 2}, {"g": "4 co-mutations", "x": 45, "n": 1}, {"g": "4 co-mutations", "x": 48, "n": 2},
      {"g": "4 co-mutations", "x": 50, "n": 3}, {"g": "4 co-mutations", "x": 52, "n": 2}, {"g": "4 co-mutations", "x": 55, "n": 3},
      {"g": "4 co-mutations", "x": 58, "n": 3}, {"g": "4 co-mutations", "x": 60, "n": 3}, {"g": "4 co-mutations", "x": 62, "n": 2},
      {"g": "4 co-mutations", "x": 64, "n": 5}, {"g": "4 co-mutations", "x": 65, "n": 4}, {"g": "4 co-mutations", "x": 66, "n": 5},
      {"g": "4 co-mutations", "x": 67, "n": 6}, {"g": "4 co-mutations", "x": 68, "n": 4}, {"g": "4 co-mutations", "x": 69, "n": 8},
      {"g": "4 co-mutations", "x": 70, "n": 6}, {"g": "4 co-mutations", "x": 71, "n": 6}, {"g": "4 co-mutations", "x": 72, "n": 4},
      {"g": "4 co-mutations", "x": 73, "n": 5}, {"g": "4 co-mutations", "x": 74, "n": 3}, {"g": "4 co-mutations", "x": 75, "n": 5},
      {"g": "4 co-mutations", "x": 76, "n": 4}, {"g": "4 co-mutations", "x": 77, "n": 4}, {"g": "4 co-mutations", "x": 78, "n": 4},
      {"g": "4 co-mutations", "x": 79, "n": 2}, {"g": "4 co-mutations", "x": 80, "n": 5}, {"g": "4 co-mutations", "x": 81, "n": 22},
      {"g": "4 co-mutations", "x": 82, "n": 30}, {"g": "4 co-mutations", "x": 83, "n": 20}, {"g": "4 co-mutations", "x": 84, "n": 18},
      {"g": "4 co-mutations", "x": 85, "n": 14}, {"g": "4 co-mutations", "x": 86, "n": 12}, {"g": "4 co-mutations", "x": 87, "n": 7},
      {"g": "4 co-mutations", "x": 88, "n": 4}, {"g": "4 co-mutations", "x": 89, "n": 10}, {"g": "4 co-mutations", "x": 90, "n": 11},
      {"g": "4 co-mutations", "x": 91, "n": 10}, {"g": "4 co-mutations", "x": 92, "n": 8}, {"g": "4 co-mutations", "x": 93, "n": 6},
      {"g": "4 co-mutations", "x": 94, "n": 3}, {"g": "4 co-mutations", "x": 95, "n": 3}, {"g": "4 co-mutations", "x": 96, "n": 2},
      {"g": "4 co-mutations", "x": 97, "n": 2}, {"g": "4 co-mutations", "x": 98, "n": 3}, {"g": "4 co-mutations", "x": 99, "n": 2},
      {"g": "4 co-mutations", "x": 100, "n": 2}, {"g": "4 co-mutations", "x": 101, "n": 4}, {"g": "4 co-mutations", "x": 102, "n": 3}
    ]
  },
  "config": {
    "font": "Liberation Sans",
    "view": {"stroke": null},
    "axis": {"labelFont": "Liberation Sans", "titleFont": "Liberation Sans", "labelFontSize": 21, "titleFontSize": 21, "titleFontWeight": "normal", "labelColor": "#000000", "titleColor": "#000000", "ticks": false, "labelFlush": false, "labelOverlap": false, "labelPadding": 2, "gridColor": "#dcdcdc", "domainColor": "#999999"},
    "legend": {"labelFont": "Liberation Sans", "titleFont": "Liberation Sans", "labelFontSize": 21, "labelColor": "#000000", "titleColor": "#000000"},
    "title": {"anchor": "start", "frame": "group", "fontSize": 16, "fontWeight": "bold", "font": "Liberation Sans", "color": "#000000"}
  }
}
